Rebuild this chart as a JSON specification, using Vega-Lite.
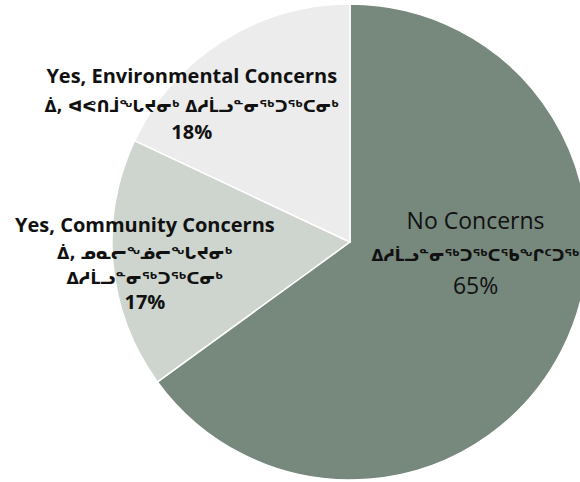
{
  "$schema": "https://vega.github.io/schema/vega-lite/v6.json",
  "width": 580,
  "height": 482,
  "padding": 0,
  "autosize": {"type": "none"},
  "background": "white",
  "config": {"view": {"stroke": null}},
  "data": {
    "values": [
      {"category": "No Concerns", "syllabics": "ᐃᓱᒫᓗᓐᓂᖅᑐᖅᑕᖃᖕᒋᑦᑐᖅ", "value": 65, "rank": 1},
      {"category": "Yes, Community Concerns", "syllabics": "ᐄ, ᓄᓇᓕᖕᓅᓕᖕᒐᔪᓂᒃ\nᐃᓱᒫᓗᓐᓂᖅᑐᖅᑕᓂᒃ", "value": 17, "rank": 2},
      {"category": "Yes, Environmental Concerns", "syllabics": "ᐄ, ᐊᕙᑎᒨᖕᒐᔪᓂᒃ ᐃᓱᒫᓗᓐᓂᖅᑐᖅᑕᓂᒃ", "value": 18, "rank": 3}
    ]
  },
  "transform": [
    {"stack": "value", "groupby": [], "sort": [{"field": "rank", "order": "ascending"}], "as": ["v0", "v1"]},
    {"calculate": "(datum.v0 + datum.v1) / 2", "as": "mid"},
    {"calculate": "datum.value + '%'", "as": "pct"}
  ],
  "layer": [
    {
      "mark": {"type": "arc", "outerRadius": 238, "x": {"expr": "width * 0.6034"}, "y": {"expr": "height * 0.502"}, "stroke": "white", "strokeWidth": 1.5},
      "encoding": {
        "theta": {"field": "v0", "type": "quantitative", "scale": {"domain": [0, 100]}},
        "theta2": {"field": "v1"},
        "color": {
          "field": "category",
          "type": "nominal",
          "legend": null,
          "scale": {
            "domain": ["No Concerns", "Yes, Community Concerns", "Yes, Environmental Concerns"],
            "range": ["#77887d", "#cdd5ce", "#ebeceb"]
          }
        }
      }
    },
    {
      "transform": [{"filter": "datum.category === 'No Concerns'"}],
      "mark": {"type": "text", "x": {"expr": "width * 0.6034"}, "y": {"expr": "height * 0.502"}, "radius": 132, "dx": 8, "dy": -80, "font": "Open Sans", "fontSize": 23, "fontWeight": "normal", "color": "#111111", "align": "center", "baseline": "middle"},
      "encoding": {"theta": {"field": "mid", "type": "quantitative", "scale": {"domain": [0, 100]}}, "text": {"field": "category"}}
    },
    {
      "transform": [{"filter": "datum.category === 'No Concerns'"}],
      "mark": {"type": "text", "x": {"expr": "width * 0.6034"}, "y": {"expr": "height * 0.502"}, "radius": 132, "dx": 8, "dy": -46, "font": "DejaVu Sans", "fontSize": 15.5, "fontWeight": "bold", "color": "#111111", "align": "center", "baseline": "middle"},
      "encoding": {"theta": {"field": "mid", "type": "quantitative", "scale": {"domain": [0, 100]}}, "text": {"field": "syllabics"}}
    },
    {
      "transform": [{"filter": "datum.category === 'No Concerns'"}],
      "mark": {"type": "text", "x": {"expr": "width * 0.6034"}, "y": {"expr": "height * 0.502"}, "radius": 132, "dx": 8, "dy": -15, "font": "Open Sans", "fontSize": 23, "fontWeight": "normal", "color": "#111111", "align": "center", "baseline": "middle"},
      "encoding": {"theta": {"field": "mid", "type": "quantitative", "scale": {"domain": [0, 100]}}, "text": {"field": "pct"}}
    },
    {
      "transform": [{"filter": "datum.category === 'Yes, Community Concerns'"}],
      "mark": {"type": "text", "x": {"expr": "width * 0.6034"}, "y": {"expr": "height * 0.502"}, "radius": 206, "dy": -35, "font": "Open Sans", "fontSize": 20, "fontWeight": "bold", "color": "#111111", "align": "center", "baseline": "middle"},
      "encoding": {"theta": {"field": "mid", "type": "quantitative", "scale": {"domain": [0, 100]}}, "text": {"field": "category"}}
    },
    {
      "transform": [{"filter": "datum.category === 'Yes, Community Concerns'"}],
      "mark": {"type": "text", "x": {"expr": "width * 0.6034"}, "y": {"expr": "height * 0.502"}, "radius": 206, "dy": -7, "lineBreak": "\n", "lineHeight": 25, "font": "DejaVu Sans", "fontSize": 16, "fontWeight": "bold", "color": "#111111", "align": "center", "baseline": "middle"},
      "encoding": {"theta": {"field": "mid", "type": "quantitative", "scale": {"domain": [0, 100]}}, "text": {"field": "syllabics"}}
    },
    {
      "transform": [{"filter": "datum.category === 'Yes, Community Concerns'"}],
      "mark": {"type": "text", "x": {"expr": "width * 0.6034"}, "y": {"expr": "height * 0.502"}, "radius": 206, "dy": 42, "font": "Open Sans", "fontSize": 20, "fontWeight": "bold", "color": "#111111", "align": "center", "baseline": "middle"},
      "encoding": {"theta": {"field": "mid", "type": "quantitative", "scale": {"domain": [0, 100]}}, "text": {"field": "pct"}}
    },
    {
      "transform": [{"filter": "datum.category === 'Yes, Environmental Concerns'"}],
      "mark": {"type": "text", "x": {"expr": "width * 0.6034"}, "y": {"expr": "height * 0.502"}, "radius": 187, "dx": -58, "dy": -7, "font": "Open Sans", "fontSize": 20, "fontWeight": "bold", "color": "#111111", "align": "center", "baseline": "middle"},
      "encoding": {"theta": {"field": "mid", "type": "quantitative", "scale": {"domain": [0, 100]}}, "text": {"field": "category"}}
    },
    {
      "transform": [{"filter": "datum.category === 'Yes, Environmental Concerns'"}],
      "mark": {"type": "text", "x": {"expr": "width * 0.6034"}, "y": {"expr": "height * 0.502"}, "radius": 187, "dx": -58, "dy": 23, "font": "DejaVu Sans", "fontSize": 15.7, "fontWeight": "bold", "color": "#111111", "align": "center", "baseline": "middle"},
      "encoding": {"theta": {"field": "mid", "type": "quantitative", "scale": {"domain": [0, 100]}}, "text": {"field": "syllabics"}}
    },
    {
      "transform": [{"filter": "datum.category === 'Yes, Environmental Concerns'"}],
      "mark": {"type": "text", "x": {"expr": "width * 0.6034"}, "y": {"expr": "height * 0.502"}, "radius": 187, "dx": -58, "dy": 49, "font": "Open Sans", "fontSize": 20, "fontWeight": "bold", "color": "#111111", "align": "center", "baseline": "middle"},
      "encoding": {"theta": {"field": "mid", "type": "quantitative", "scale": {"domain": [0, 100]}}, "text": {"field": "pct"}}
    }
  ]
}
